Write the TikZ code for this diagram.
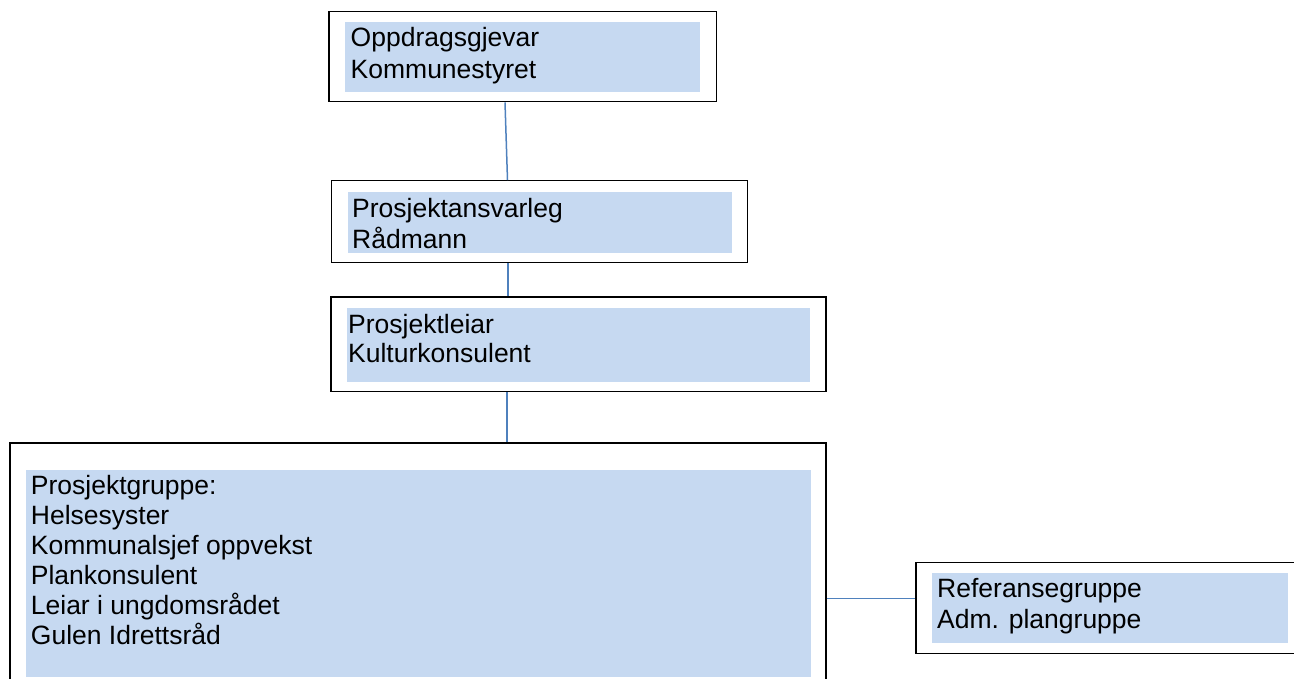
\documentclass[tikz,border=0pt]{standalone}
\usepackage{fontspec}
\setmainfont{Liberation Sans}
\usetikzlibrary{fit}
\definecolor{fillblue}{HTML}{C6D9F1}
\definecolor{linkblue}{HTML}{4F81BD}
\begin{document}
\begin{tikzpicture}[x=1pt,y=-1pt,
  obox/.style={draw=black, line width=1.3pt, inner sep=0pt, fill=white},
  ibox/.style={fill=fillblue, inner sep=0pt, draw=none},
  txt/.style={anchor=base west, inner sep=0pt, font=\fontsize{26.5}{30.5}\selectfont},
  link/.style={draw=linkblue, line width=1.5pt}]
\useasboundingbox (0,0) rectangle (1294,678);
\clip (0,0) rectangle (1294,678);

% box 1
\node[obox, fit={(329,11.5) (716.6,101.7)}] (b1) {};
\node[ibox, fit={(345.4,22.4) (700,91.5)}] (f1) {};
\node[txt] (t1a) at (350.5,46) {Oppdragsgjevar};
\node[txt] (t1b) at (350.5,78) {Kommunestyret};

% box 2
\node[obox, fit={(331.7,180.7) (747.6,262.7)}] (b2) {};
\node[ibox, fit={(347.6,191.7) (732,253)}] (f2) {};
\node[txt] (t2a) at (352,217.5) {Prosjektansvarleg};
\node[txt] (t2b) at (352,248.6) {Rådmann};

% box 3
\node[obox, fit={(331,297) (826,391.7)}] (b3) {};
\node[ibox, fit={(347,308) (810,382)}] (f3) {};
\node[txt] (t3a) at (348,333.3) {Prosjektleiar};
\node[txt] (t3b) at (348,362.7) {Kulturkonsulent};

% box 4
\node[obox, fit={(10,443) (826,700)}] (b4) {};
\node[ibox, fit={(26,470) (811,677)}] (f4) {};
\node[txt] (t4a) at (30.7,494) {Prosjektgruppe:};
\node[txt] (t4b) at (30.7,524) {Helsesyster};
\node[txt] (t4c) at (30.7,554) {Kommunalsjef oppvekst};
\node[txt] (t4d) at (30.7,584) {Plankonsulent};
\node[txt] (t4e) at (30.7,614) {Leiar i ungdomsrådet};
\node[txt] (t4f) at (30.7,644) {Gulen Idrettsråd};

% box 5
\node[obox, fit={(916,562.7) (1310,653.3)}] (b5) {};
\node[ibox, fit={(932,573.3) (1287.7,643.3)}] (f5) {};
\node[txt] (t5a) at (937,597.3) {Referansegruppe};
\node[txt] (t5b) at (937,628.3) {Adm. plangruppe};

% connectors
\draw[link] ([xshift=-17.8pt]b1.south) -- ([xshift=-32.15pt]b2.north);
\draw[link] ([xshift=-31.65pt]b2.south) -- ([xshift=-70.5pt]b3.north);
\draw[link] ([xshift=-71.5pt]b3.south) -- ([xshift=89pt]b4.north);
\draw[link] ([yshift=-26.8pt]b4.east) -- ([yshift=9.7pt]b5.west);
\end{tikzpicture}
\end{document}
